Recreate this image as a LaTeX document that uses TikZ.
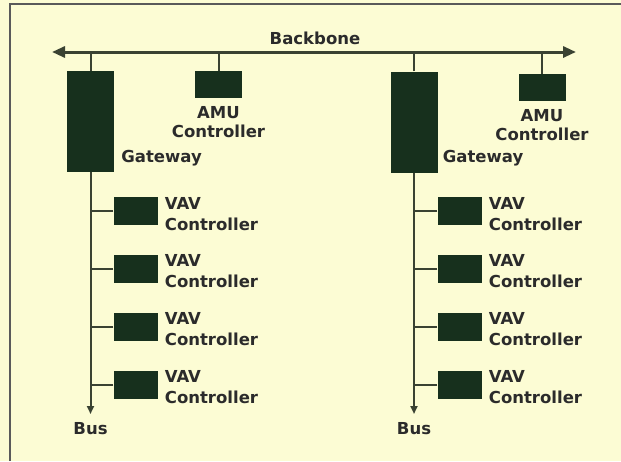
\documentclass[tikz,border=0pt]{standalone}
\usepackage{fontspec}
\setmainfont{DejaVu Sans}
\usetikzlibrary{arrows.meta,positioning}
\definecolor{paper}{HTML}{FCFCD4}
\definecolor{boxgreen}{HTML}{17301D}
\definecolor{wirecol}{HTML}{3A4232}
\definecolor{framecol}{HTML}{5A5A5A}
\definecolor{ink}{HTML}{2B2B2B}
\begin{document}
\begin{tikzpicture}[x=1pt, y=-1pt, font=\fontsize{16.5}{19}\selectfont\bfseries,
	unit/.style={fill=boxgreen, inner sep=0pt},
	gwbox/.style={unit, minimum width=47pt, minimum height=101pt},
	amubox/.style={unit, minimum width=47pt, minimum height=27pt},
	vavbox/.style={unit, minimum width=44pt, minimum height=28pt},
	lbl/.style={text=ink, inner sep=1pt, align=left},
	link/.style={draw=wirecol, line width=2pt}]
	\useasboundingbox (0,0) rectangle (621,461);
	\fill[paper] (0,0) rectangle (621,461);
	\draw[framecol, line width=2pt] (10,461) -- (10,4) -- (621,4);
	% backbone
	\coordinate (bbW) at (52,52);
	\coordinate (bbE) at (576,52);
	\draw[link, line width=3pt, {Triangle[length=13pt,width=11pt]}-{Triangle[length=13pt,width=11pt]}] (bbW) -- (bbE);
	\node[lbl] (bbtxt) at (315,38) {Backbone};
	% left segment
	\node[gwbox] (gwL) at (90.5,121.5) {};
	\node[amubox] (amuL) at (218.5,84.5) {};
	\draw[link] (gwL.north) -- (gwL.north |- bbW);
	\draw[link] (amuL.north) -- (amuL.north |- bbW);
	\node[lbl, align=center, below=7pt of amuL] (amuLtxt) {AMU\\Controller};
	\node[lbl, anchor=base west] (gwLtxt) at ([xshift=6pt,yshift=10pt]gwL.south east) {Gateway};
	\coordinate (busL) at (90.5,414);
	\draw[link, -{Triangle[length=8pt,width=7pt]}] (gwL.south) -- (busL);
	\node[lbl, below=7pt of busL] (busLtxt) {Bus};
	% right segment
	\node[gwbox] (gwR) at (414,122) {};
	\node[amubox] (amuR) at (542,87.5) {};
	\draw[link] (gwR.north) -- (gwR.north |- bbW);
	\draw[link] (amuR.north) -- (amuR.north |- bbW);
	\node[lbl, align=center, below=7pt of amuR] (amuRtxt) {AMU\\Controller};
	\node[lbl, anchor=base west] (gwRtxt) at ([xshift=4pt,yshift=10pt]gwR.south east) {Gateway};
	\coordinate (busR) at (414,414);
	\draw[link, -{Triangle[length=8pt,width=7pt]}] (gwR.south) -- (busR);
	\node[lbl, below=7pt of busR] (busRtxt) {Bus};
	% VAV controllers
	\foreach \i/\y in {1/211,2/268.5,3/326.5,4/384.5} {
		\node[vavbox] (vavL\i) at (135.5,\y) {};
		\node[vavbox] (vavR\i) at (459.5,\y) {};
		\draw[link] (vavL\i.west) -- (vavL\i.west -| gwL.south);
		\draw[link] (vavR\i.west) -- (vavR\i.west -| gwR.south);
		\node[lbl, anchor=north west] (vavLtxt\i) at ([xshift=6pt,yshift=1pt]vavL\i.north east) {VAV\\[2pt]Controller};
		\node[lbl, anchor=north west] (vavRtxt\i) at ([xshift=6pt,yshift=1pt]vavR\i.north east) {VAV\\[2pt]Controller};
	}
\end{tikzpicture}
\end{document}
